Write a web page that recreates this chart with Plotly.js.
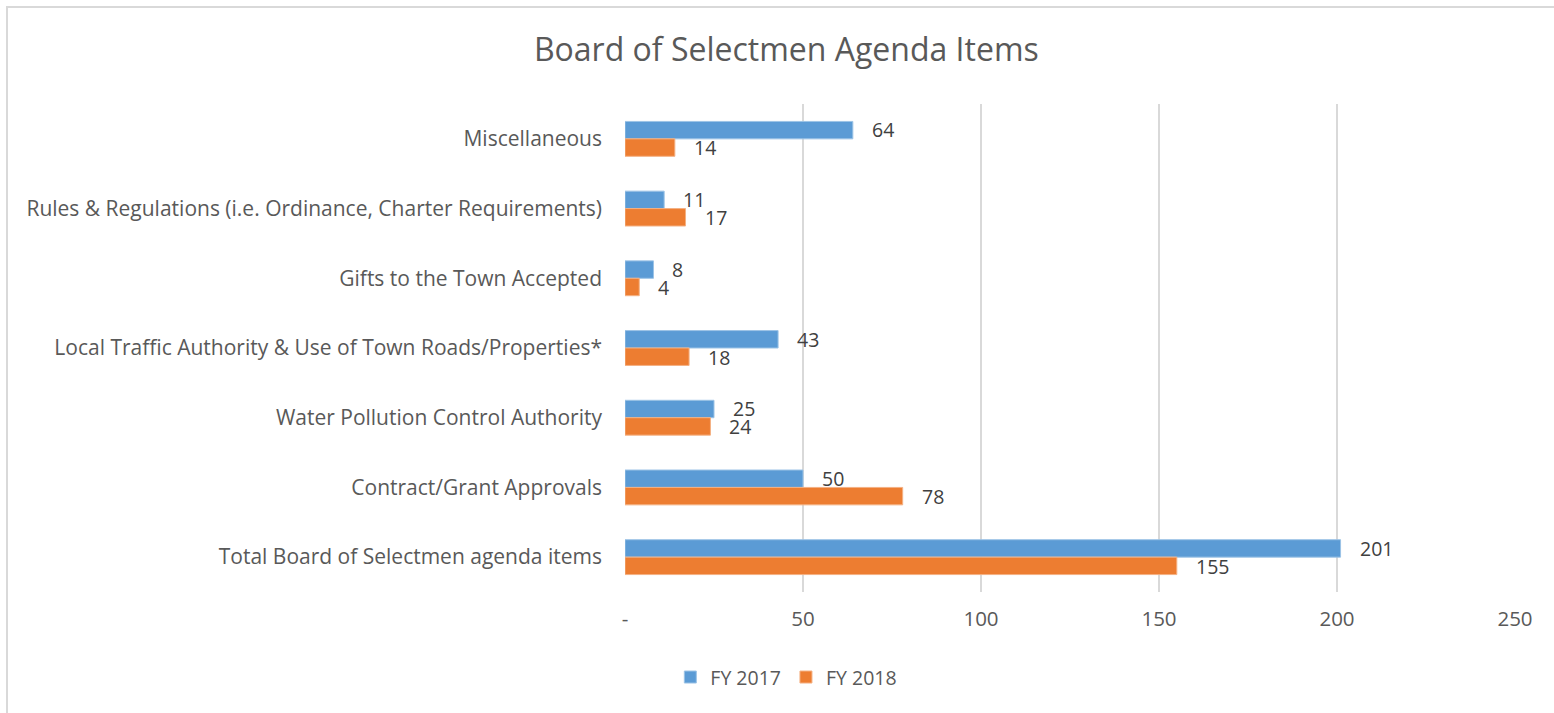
<!DOCTYPE html>
<html>
<head>
<meta charset="utf-8">
<script src="https://cdn.plot.ly/plotly-3.0.1.min.js"></script>
<style>
html,body{margin:0;padding:0;background:#fff;overflow:hidden;}
#wrap{position:relative;width:1554px;height:713px;overflow:hidden;}
#chart{width:1554px;height:713px;}
#frame{position:absolute;left:6px;top:6px;width:1548px;height:707px;border-top:2px solid #d9d9d9;border-left:2px solid #d9d9d9;pointer-events:none;box-sizing:border-box;}
</style>
</head>
<body>
<div id="wrap">
<div id="chart"></div>
<div id="frame"></div>
</div>
<script>
const categories = [
  "Miscellaneous",
  "Rules & Regulations (i.e. Ordinance, Charter Requirements)",
  "Gifts to the Town Accepted",
  "Local Traffic Authority & Use of Town Roads/Properties*",
  "Water Pollution Control Authority",
  "Contract/Grant Approvals",
  "Total Board of Selectmen agenda items"
];
const fy2017 = [64, 11, 8, 43, 25, 50, 201];
const fy2018 = [14, 17, 4, 18, 24, 78, 155];
const xTickVals = [0, 50, 100, 150, 200, 250];
const xTickText = ["-", "50", "100", "150", "200", "250"];

const font = "Open Sans, Liberation Sans, sans-serif";

const traces = [
  {type:"bar", orientation:"h", name:"FY 2017", y:categories, x:fy2017,
   marker:{color:"#5b9bd5", line:{color:"#9cc3e6", width:1}}, hoverinfo:"x"},
  {type:"bar", orientation:"h", name:"FY 2018", y:categories, x:fy2018,
   marker:{color:"#ed7d31", line:{color:"#f4b183", width:1}}, hoverinfo:"x"}
];

const annotations = [];
categories.forEach((c, i) => {
  annotations.push({x:fy2017[i], y:c, xref:"x", yref:"y", text:String(fy2017[i]),
    showarrow:false, xanchor:"left", xshift:17, yshift:9,
    font:{family:font, size:19.5, color:"#404040"}});
  annotations.push({x:fy2018[i], y:c, xref:"x", yref:"y", text:String(fy2018[i]),
    showarrow:false, xanchor:"left", xshift:17, yshift:-9,
    font:{family:font, size:19.5, color:"#404040"}});
});

const layout = {
  width:1554, height:713,
  margin:{l:625, r:39, t:104, b:121},
  paper_bgcolor:"#fff", plot_bgcolor:"#fff",
  title:{text:"Board of Selectmen Agenda Items", x:0.506, xref:"container", xanchor:"center",
    y:0.93, yref:"container", yanchor:"middle",
    font:{family:font, size:32, color:"#595959"}},
  barmode:"group", bargap:0.5, bargroupgap:0,
  xaxis:{range:[0,250], tickvals:xTickVals, ticktext:xTickText,
    showgrid:true, gridcolor:"#d9d9d9", gridwidth:2, zeroline:false,
    showline:false, ticks:"", ticklabelstandoff:12,
    tickfont:{family:font, size:20.5, color:"#595959"}, fixedrange:true},
  yaxis:{type:"category", autorange:"reversed", showgrid:false, zeroline:false,
    showline:false, ticks:"", ticklabelstandoff:22,
    tickfont:{family:font, size:21, color:"#595959"}, fixedrange:true},
  showlegend:true,
  legend:{orientation:"h", x:0.506, xref:"container", xanchor:"center",
    y:0.05, yref:"container", yanchor:"middle", itemwidth:30,
    font:{family:font, size:19.5, color:"#595959"}, traceorder:"normal"},
  annotations:annotations
};

Plotly.newPlot("chart", traces, layout, {displayModeBar:false, staticPlot:true});
</script>
</body>
</html>
